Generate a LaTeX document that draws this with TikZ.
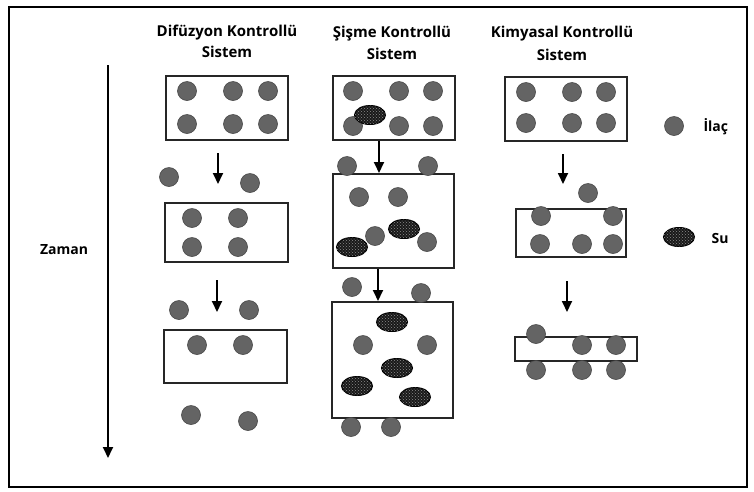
\documentclass[tikz,border=0pt]{standalone}
\usepackage{fontspec}
\setmainfont{Open Sans}
\usetikzlibrary{shapes.geometric,patterns,arrows.meta}
\definecolor{druggray}{RGB}{100,100,100}
\definecolor{drugedge}{RGB}{70,70,70}
\tikzset{
  box/.style={draw=black!85, line width=2pt, inner sep=0pt},
  drug/.style={circle, draw=drugedge, fill=druggray, line width=0.6pt, minimum size=19pt, inner sep=0pt},
  water/.style={ellipse, draw=black, line width=1pt, fill=black!90, minimum width=31pt, minimum height=19pt, inner sep=0pt,
    postaction={pattern=crosshatch dots, pattern color=black!45}},
  arr/.style={line width=1.8pt, -{Triangle[length=11pt,width=10pt]}},
  head/.style={font=\fontsize{15}{21}\selectfont\bfseries, align=center},
  lbl/.style={font=\fontsize{14}{16}\selectfont\bfseries}
}
\begin{document}
\begin{tikzpicture}[x=1pt,y=-1pt]
\useasboundingbox (0,0) rectangle (754,491);
\draw[line width=2pt] (9,7) rectangle (747,487);

% headers
\node[head] (h1) at (227,41) {Difüzyon Kontrollü\\Sistem};
\node[head, font=\fontsize{15}{22}\selectfont\bfseries] (h2) at (392,42.5) {Şişme Kontrollü\\Sistem};
\node[head, font=\fontsize{15}{23}\selectfont\bfseries] (h3) at (562,43) {Kimyasal Kontrollü\\Sistem};

% time axis
\coordinate (t0) at (108,65);
\coordinate (t1) at (108,458);
\draw[arr] (t0) -- (t1);
\node[lbl] (zaman) at (64,250) {Zaman};

% ---------- column 1: diffusion ----------
\node[box, minimum width=122pt, minimum height=64pt] (d1) at (227,108) {};
\node[drug] (d1a) at (187,91) {};
\node[drug] (d1b) at (233,91) {};
\node[drug] (d1c) at (268,91) {};
\node[drug] (d1d) at (187,124) {};
\node[drug] (d1e) at (233,124) {};
\node[drug] (d1f) at (268,124) {};
\node[drug] (d1g) at (169,177) {};
\node[drug] (d1h) at (250,183) {};
\node[box, minimum width=123pt, minimum height=59pt] (d2) at (226.5,232.5) {};
\node[drug] (d2a) at (192,218) {};
\node[drug] (d2b) at (238,218) {};
\node[drug] (d2c) at (192,247) {};
\node[drug] (d2d) at (238,247) {};
\draw[arr, shorten <=12pt, shorten >=18pt] (d1.south -| 218,0) -- (d2.north -| 218,0);
\node[drug] (d2e) at (179,310) {};
\node[drug] (d2f) at (249,310) {};
\node[box, minimum width=123pt, minimum height=53pt] (d3) at (225.5,356.5) {};
\node[drug] (d3a) at (197,345) {};
\node[drug] (d3b) at (243,345) {};
\draw[arr, shorten <=17pt, shorten >=17pt] (d2.south -| 217,0) -- (d3.north -| 217,0);
\node[drug] (d3c) at (191,415) {};
\node[drug] (d3d) at (248,421) {};

% ---------- column 2: swelling ----------
\node[box, minimum width=122pt, minimum height=64pt] (s1) at (394,108) {};
\node[drug] (s1a) at (353,91) {};
\node[drug] (s1b) at (399,91) {};
\node[drug] (s1c) at (433,91) {};
\node[drug] (s1d) at (353,126) {};
\node[drug] (s1e) at (399,126) {};
\node[drug] (s1f) at (433,126) {};
\node[water] (s1w) at (370,115) {};
\node[box, minimum width=121pt, minimum height=94pt] (s2) at (393.5,221) {};
\draw[arr] (s1.south -| 379,0) -- (s2.north -| 379,0);
\node[drug] (s2a) at (347,166) {};
\node[drug] (s2b) at (428,166) {};
\node[drug] (s2c) at (359,197) {};
\node[drug] (s2d) at (398,197) {};
\node[drug] (s2e) at (375,236) {};
\node[drug] (s2f) at (427,242) {};
\node[water] (s2w1) at (352,247) {};
\node[water] (s2w2) at (404,229) {};
\node[box, minimum width=121pt, minimum height=116pt] (s3) at (392.5,360) {};
\draw[arr] (s2.south -| 378,0) -- (s3.north -| 378,0);
\node[drug] (s3a) at (352,287) {};
\node[drug] (s3b) at (421,293) {};
\node[water] (s3w1) at (392,322) {};
\node[drug] (s3c) at (363,345) {};
\node[drug] (s3d) at (427,345) {};
\node[water] (s3w2) at (397,368) {};
\node[water] (s3w3) at (357,386) {};
\node[water] (s3w4) at (415,397) {};
\node[drug] (s3e) at (351,427) {};
\node[drug] (s3f) at (391,427) {};

% ---------- column 3: chemical ----------
\node[box, minimum width=122pt, minimum height=64pt] (k1) at (566,109) {};
\node[drug] (k1a) at (526,92) {};
\node[drug] (k1b) at (572,92) {};
\node[drug] (k1c) at (606,92) {};
\node[drug] (k1d) at (526,123) {};
\node[drug] (k1e) at (572,123) {};
\node[drug] (k1f) at (606,123) {};
\node[drug] (k1g) at (588,193) {};
\node[box, minimum width=110pt, minimum height=48pt] (k2) at (571,233) {};
\draw[arr, shorten <=12pt, shorten >=24pt] (k1.south -| 563,0) -- (k2.north -| 563,0);
\node[drug] (k2a) at (541,216) {};
\node[drug] (k2b) at (613,216) {};
\node[drug] (k2c) at (540,244) {};
\node[drug] (k2d) at (582,244) {};
\node[drug] (k2e) at (613,244) {};
\node[box, minimum width=122pt, minimum height=24pt] (k3) at (576,349) {};
\draw[arr, shorten <=23pt, shorten >=24pt] (k2.south -| 567,0) -- (k3.north -| 567,0);
\node[drug] (k3a) at (536,334) {};
\node[drug] (k3b) at (582,345) {};
\node[drug] (k3c) at (616,345) {};
\node[drug] (k3d) at (536,370) {};
\node[drug] (k3e) at (582,370) {};
\node[drug] (k3f) at (616,370) {};

% ---------- legend ----------
\node[drug] (ldrug) at (674,126) {};
\node[lbl, anchor=west] (ldrugt) at (700,127) {İlaç};
\node[water] (lwater) at (679,237) {};
\node[lbl, anchor=west] (lwatert) at (708,238) {Su};
\end{tikzpicture}
\end{document}
